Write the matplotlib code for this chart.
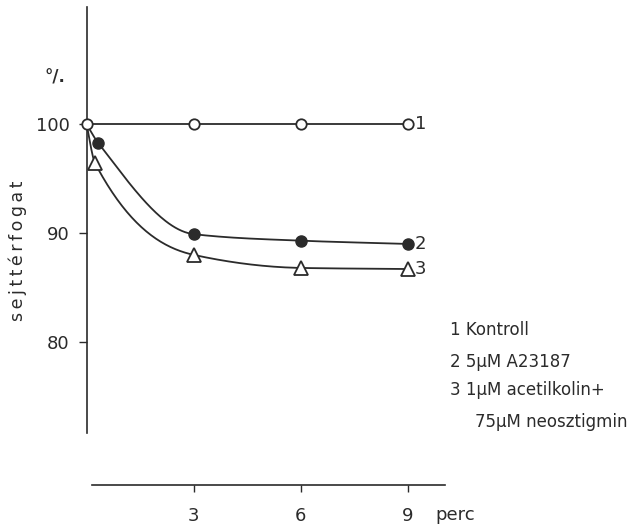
import matplotlib
matplotlib.use('Agg')
import matplotlib.pyplot as plt
import numpy as np

# data (time in minutes, cell volume in %)
t_kontroll = [0, 3, 6, 9]
v_kontroll = [100, 100, 100, 100]

t_a23187 = [0, 0.32, 3, 6, 9]
v_a23187 = [100, 98.3, 89.9, 89.3, 89.0]

t_acetil = [0, 0.24, 3, 6, 9]
v_acetil = [100, 96.4, 88.0, 86.8, 86.7]

x_ticks = [3, 6, 9]
y_ticks = [80, 90, 100]
legend_lines = ['1 Kontroll', '2 5\u03bcM A23187', '3 1\u03bcM acetilkolin+', '75\u03bcM neosztigmin']

ink = '#2b2b2b'
plt.rcParams.update({'font.family': 'DejaVu Sans', 'text.color': ink,
                     'axes.edgecolor': ink, 'xtick.color': ink, 'ytick.color': ink})


def smooth(x, y, n=200):
    # monotone cubic (Fritsch-Carlson) just for drawing the connecting curve
    x = np.asarray(x, float)
    y = np.asarray(y, float)
    h = np.diff(x)
    d = np.diff(y) / h
    m = np.zeros_like(y)
    m[0], m[-1] = d[0], d[-1]
    for k in range(1, len(x) - 1):
        if d[k - 1] * d[k] > 0:
            w1 = 2 * h[k] + h[k - 1]
            w2 = h[k] + 2 * h[k - 1]
            m[k] = (w1 + w2) / (w1 / d[k - 1] + w2 / d[k])
    xs = np.linspace(x[0], x[-1], n)
    idx = np.clip(np.searchsorted(x, xs) - 1, 0, len(x) - 2)
    s = (xs - x[idx]) / h[idx]
    h00 = 1 - 3 * s**2 + 2 * s**3
    h10 = s - 2 * s**2 + s**3
    h01 = 3 * s**2 - 2 * s**3
    h11 = s**3 - s**2
    ys = h00 * y[idx] + h10 * h[idx] * m[idx] + h01 * y[idx + 1] + h11 * h[idx] * m[idx + 1]
    return xs, ys


fig = plt.figure(figsize=(6.43, 5.28), dpi=100)
ax = fig.add_axes([0, 0, 1, 1])
ax.set_facecolor('none')
ax.set_xlim(-2.423, 15.588)
ax.set_ylim(62.94, 111.38)

lw = 1.3
# curves
for tt, vv in [(t_a23187, v_a23187), (t_acetil, v_acetil)]:
    xs, ys = smooth(tt, vv)
    ax.plot(xs, ys, color=ink, lw=lw, zorder=2)
ax.plot(t_kontroll, v_kontroll, color=ink, lw=lw, zorder=2)

# markers
ax.plot(t_a23187[1:], v_a23187[1:], 'o', ms=8, color=ink, zorder=3)
ax.plot(t_acetil[1:], v_acetil[1:], '^', ms=10.5, mfc='white', mec=ink, mew=1.3, zorder=3)
ax.plot(t_kontroll, v_kontroll, 'o', ms=7.5, mfc='white', mec=ink, mew=1.3, zorder=4)

# curve numbers at the ends
for lab, tt, vv in [('1', t_kontroll, v_kontroll), ('2', t_a23187, v_a23187), ('3', t_acetil, v_acetil)]:
    ax.annotate(lab, (tt[-1], vv[-1]), xytext=(7, 0), textcoords='offset pixels',
                ha='left', va='center', fontsize=13)

# axes
for s in ['top', 'right']:
    ax.spines[s].set_visible(False)
ax.spines['left'].set_position(('data', 0))
ax.spines['left'].set_bounds(71.65, 110.73)
ax.spines['bottom'].set_position(('data', 66.88))
ax.spines['bottom'].set_bounds(0.154, 10.04)
for s in ['left', 'bottom']:
    ax.spines[s].set_linewidth(1.2)

ax.set_xticks(x_ticks)
ax.set_xticklabels([str(v) for v in x_ticks])
ax.set_yticks(y_ticks)
ax.set_yticklabels([str(v) for v in y_ticks])
ax.tick_params(axis='y', direction='out', length=6, width=1, pad=6, labelsize=13)
ax.tick_params(axis='x', direction='out', length=5, width=1, pad=11, labelsize=13)

fig.text(18 / 643, 1 - 251 / 528, '\u2009'.join('sejttérfogat'), rotation=90,
         ha='center', va='center', fontsize=12.5)
fig.text(55 / 643, 1 - 78 / 528, '°/.', ha='center', va='center', fontsize=12, fontweight='bold')
fig.text(435 / 643, 1 - 515 / 528, 'perc', ha='left', va='center', fontsize=13)

ys_leg = [330, 362, 390, 422]
xs_leg = [450, 450, 450, 475]
for txt, xp, yp in zip(legend_lines, xs_leg, ys_leg):
    fig.text(xp / 643, 1 - yp / 528, txt, ha='left', va='center', fontsize=12)

fig.savefig('out.png', dpi=100, facecolor='white')
